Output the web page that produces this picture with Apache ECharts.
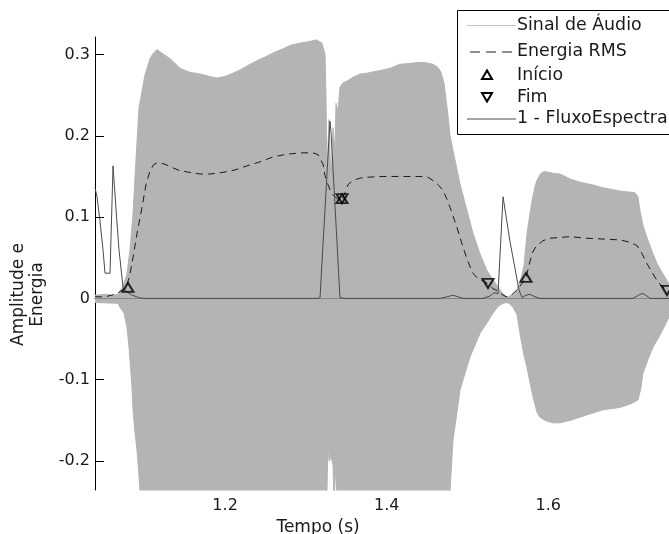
<!DOCTYPE html>
<html>
<head>
<meta charset="utf-8">
<script src="https://cdn.jsdelivr.net/npm/echarts@6/dist/echarts.min.js"></script>
<style>
  html, body { margin: 0; padding: 0; background: #fff; }
  #chart { width: 669px; height: 534px; }
</style>
</head>
<body>
<div id="chart"></div>
<script>
// Audio signal envelope (upper edge), time in seconds
const upperTime = [1.039, 1.0514, 1.0613, 1.0675, 1.0737, 1.0786, 1.0823, 1.0860, 1.0897, 1.0935,
  1.0972, 1.1009, 1.1071, 1.1108, 1.1157, 1.1256, 1.1318, 1.1442, 1.1566, 1.1690,
  1.1813, 1.1900, 1.1999, 1.2098, 1.2185, 1.2308, 1.2432, 1.2519, 1.2618, 1.2717,
  1.2803, 1.2927, 1.3051, 1.3125, 1.3199, 1.3237, 1.3249, 1.3261, 1.3286, 1.3311,
  1.3336, 1.3360, 1.3373, 1.3397, 1.3422, 1.3459, 1.3521, 1.3583, 1.3670, 1.3756,
  1.3855, 1.3954, 1.4041, 1.4165, 1.4289, 1.4375, 1.4474, 1.4573, 1.4635, 1.4672,
  1.4709, 1.4734, 1.4759, 1.4784, 1.4821, 1.4907, 1.4994, 1.5068, 1.5155, 1.5242,
  1.5365, 1.5427, 1.5489, 1.5526, 1.5588, 1.5650, 1.5699, 1.5737, 1.5774, 1.5798,
  1.5836, 1.5860, 1.5897, 1.5922, 1.5959, 1.6058, 1.6145, 1.6269, 1.6393, 1.6479,
  1.6578, 1.6677, 1.6789, 1.6887, 1.6986, 1.7073, 1.7110, 1.7135, 1.7172, 1.7221,
  1.7284, 1.7346, 1.7420, 1.7494];
const upperValue = [0.004, 0.005, 0.004, 0.005, 0.015, 0.03, 0.06, 0.104, 0.17, 0.235,
  0.255, 0.275, 0.295, 0.301, 0.306, 0.299, 0.295, 0.283, 0.278, 0.276,
  0.273, 0.271, 0.273, 0.277, 0.281, 0.288, 0.294, 0.298, 0.303, 0.307,
  0.311, 0.314, 0.316, 0.318, 0.314, 0.300, 0.250, 0.150, 0.220, 0.140,
  0.210, 0.180, 0.240, 0.230, 0.260, 0.265, 0.268, 0.272, 0.276, 0.277,
  0.279, 0.281, 0.283, 0.288, 0.289, 0.290, 0.290, 0.288, 0.284, 0.278,
  0.265, 0.245, 0.225, 0.200, 0.182, 0.141, 0.108, 0.080, 0.055, 0.034,
  0.016, 0.007, 0.002, 0.003, 0.006, 0.020, 0.040, 0.080, 0.105, 0.120,
  0.138, 0.145, 0.152, 0.155, 0.156, 0.154, 0.153, 0.147, 0.143, 0.141,
  0.139, 0.136, 0.134, 0.132, 0.131, 0.130, 0.125, 0.108, 0.090, 0.075,
  0.058, 0.043, 0.030, 0.018];

// Audio signal envelope (lower edge)
const lowerTime = [1.039, 1.0675, 1.0699, 1.0749, 1.0786, 1.0811, 1.0823, 1.0848, 1.0860, 1.0885,
  1.0910, 1.0947, 1.0984, 1.1071, 1.3249, 1.3274, 1.3286, 1.3311, 1.3336, 1.3348,
  1.3373, 1.3385, 1.3410, 1.3434, 1.4747, 1.4784, 1.4821, 1.4870, 1.4907, 1.4969,
  1.5031, 1.5155, 1.5242, 1.5316, 1.5378, 1.5440, 1.5489, 1.5526, 1.5563, 1.5613,
  1.5650, 1.5699, 1.5737, 1.5774, 1.5811, 1.5860, 1.5897, 1.5959, 1.6058, 1.6145,
  1.6269, 1.6393, 1.6516, 1.6677, 1.6887, 1.7011, 1.7110, 1.7147, 1.7172, 1.7234,
  1.7296, 1.7383, 1.7494];
const lowerValue = [-0.005, -0.006, -0.011, -0.018, -0.036, -0.060, -0.076, -0.110, -0.137, -0.165,
  -0.187, -0.236, -0.270, -0.300, -0.300, -0.171, -0.200, -0.195, -0.205, -0.250,
  -0.203, -0.250, -0.225, -0.300, -0.300, -0.236, -0.174, -0.140, -0.113, -0.092,
  -0.072, -0.043, -0.030, -0.018, -0.010, -0.006, -0.005, -0.007, -0.011, -0.020,
  -0.043, -0.070, -0.085, -0.104, -0.121, -0.140, -0.146, -0.150, -0.153, -0.153,
  -0.150, -0.146, -0.142, -0.137, -0.134, -0.130, -0.125, -0.110, -0.092, -0.075,
  -0.060, -0.045, -0.023];

// RMS energy curve
const rmsTime = [1.039, 1.0514, 1.0600, 1.0675, 1.0724, 1.0786, 1.0823, 1.0860, 1.0910, 1.0972,
  1.1021, 1.1071, 1.1120, 1.1170, 1.1256, 1.1343, 1.1442, 1.1566, 1.1690, 1.1813,
  1.1974, 1.2123, 1.2271, 1.2432, 1.2593, 1.2742, 1.2927, 1.3088, 1.3150, 1.3175,
  1.3212, 1.3237, 1.3274, 1.3311, 1.3360, 1.3397, 1.3447, 1.3484, 1.3521, 1.3583,
  1.3670, 1.3756, 1.3954, 1.4165, 1.4412, 1.4511, 1.4573, 1.4635, 1.4697, 1.4746,
  1.4784, 1.4870, 1.4945, 1.5006, 1.5068, 1.5130, 1.5180, 1.5254, 1.5316, 1.5365,
  1.5427, 1.5477, 1.5526, 1.5588, 1.5650, 1.5724, 1.5761, 1.5798, 1.5836, 1.5860,
  1.5934, 1.6021, 1.6145, 1.6269, 1.6479, 1.6677, 1.6887, 1.7011, 1.7098, 1.7160,
  1.7221, 1.7284, 1.7346, 1.7407, 1.7469, 1.7494];
const rmsValue = [0.002, 0.002, 0.004, 0.007, 0.010, 0.016, 0.030, 0.050, 0.080, 0.112,
  0.140, 0.157, 0.165, 0.167, 0.165, 0.161, 0.157, 0.155, 0.153, 0.153,
  0.155, 0.158, 0.163, 0.168, 0.174, 0.177, 0.179, 0.179, 0.177, 0.172,
  0.165, 0.151, 0.140, 0.130, 0.125, 0.122, 0.123, 0.130, 0.140, 0.145,
  0.148, 0.149, 0.150, 0.150, 0.150, 0.149, 0.145, 0.140, 0.133, 0.122,
  0.112, 0.087, 0.063, 0.045, 0.031, 0.024, 0.022, 0.018, 0.012, 0.0098,
  0.005, 0.002, 0.003, 0.008, 0.015, 0.026, 0.040, 0.055, 0.062, 0.065,
  0.071, 0.074, 0.075, 0.076, 0.074, 0.073, 0.072, 0.069, 0.065, 0.055,
  0.043, 0.032, 0.022, 0.015, 0.010, 0.008];

// Spectral flux curve
const fluxTime = [1.039, 1.0415, 1.0452, 1.0489, 1.0514, 1.0576, 1.0613, 1.0650, 1.0687, 1.0737,
  1.0786, 1.0848, 1.0947, 1.1009, 1.3150, 1.3175, 1.3298, 1.3311, 1.3422, 1.3484,
  1.4660, 1.4747, 1.4821, 1.4883, 1.4945, 1.5192, 1.5279, 1.5328, 1.5378, 1.5440,
  1.5526, 1.5638, 1.5675, 1.5724, 1.5774, 1.5836, 1.5897, 1.7048, 1.7135, 1.7172,
  1.7221, 1.7259, 1.7494];
const fluxValue = [0.136, 0.125, 0.095, 0.060, 0.031, 0.031, 0.163, 0.110, 0.060, 0.0135,
  0.008, 0.004, 0.0005, 0, 0, 0.001, 0.218, 0.205, 0.001, 0,
  0, 0.002, 0.004, 0.002, 0, 0, 0.003, 0.007, 0.006, 0.125,
  0.070, 0.010, 0.001, 0.004, 0.005, 0.002, 0, 0, 0.005, 0.006,
  0.003, 0, 0];

// Detected onsets and offsets
const onsetTime = [1.0798, 1.3447, 1.5724];
const onsetValue = [0.0135, 0.1227, 0.0258];
const offsetTime = [1.3447, 1.5254, 1.7469];
const offsetValue = [0.1227, 0.0184, 0.0098];

// Axis ticks and legend entries
const xTicks = [1.2, 1.4, 1.6];
const yTicks = [-0.2, -0.1, 0, 0.1, 0.2, 0.3];
const legendNames = ['Sinal de Áudio', 'Energia RMS', 'Início', 'Fim', '1 - FluxoEspectral'];

const zip = (xs, ys) => xs.map((x, i) => [x, ys[i]]);

const FONT = 'DejaVu Sans';
const TEXT = '#1a1a1a';
const GREY = '#b4b4b4';
const RMS_COLOR = '#1a1a1a';
const FLUX_COLOR = '#4a4a4a';
const DOWN_TRIANGLE = 'path://M0,0L10,0L5,9Z';

// Legend box drawn as graphic elements: one row per entry
function buildLegend() {
  const boxX = 457.5, boxY = 10.5, rowY = [25, 51.5, 75, 97, 118.5];
  const sx0 = 467, sx1 = 516, cx = 487, textX = 517;
  const els = [{
    type: 'rect', shape: { x: boxX, y: boxY, width: 230, height: 124 },
    style: { fill: '#fff', stroke: '#000', lineWidth: 1 }, z: 100
  }];
  const samples = [
    { type: 'line', shape: { x1: sx0, y1: rowY[0] + 0.5, x2: sx1, y2: rowY[0] + 0.5 }, style: { stroke: '#c4c4c4', lineWidth: 1 } },
    { type: 'line', shape: { x1: sx0 + 3, y1: rowY[1] + 0.5, x2: sx1, y2: rowY[1] + 0.5 }, style: { stroke: RMS_COLOR, lineWidth: 1, lineDash: [10, 6] } },
    { type: 'polygon', shape: { points: [[cx - 5, rowY[2] + 4], [cx + 5, rowY[2] + 4], [cx, rowY[2] - 4.5]] }, style: { fill: 'none', stroke: '#000', lineWidth: 2 } },
    { type: 'polygon', shape: { points: [[cx - 5, rowY[3] - 4], [cx + 5, rowY[3] - 4], [cx, rowY[3] + 4.5]] }, style: { fill: 'none', stroke: '#000', lineWidth: 2 } },
    { type: 'line', shape: { x1: sx0, y1: rowY[4] + 0.5, x2: sx1, y2: rowY[4] + 0.5 }, style: { stroke: FLUX_COLOR, lineWidth: 1 } }
  ];
  samples.forEach(s => { s.z = 101; els.push(s); });
  legendNames.forEach((name, i) => {
    els.push({
      type: 'text', x: textX, y: rowY[i], z: 101,
      style: { text: name, fontFamily: FONT, fontSize: 17.4, fill: TEXT, verticalAlign: 'middle', align: 'left' }
    });
  });
  return els;
}

const chart = echarts.init(document.getElementById('chart'), null, { renderer: 'canvas' });

chart.setOption({
  animation: false,
  backgroundColor: '#ffffff',
  grid: { left: 95, right: 0, top: 37, bottom: 44, containLabel: false, outerBoundsMode: 'none' },
  xAxis: {
    type: 'value',
    min: 1.039,
    max: 1.7494,
    name: 'Tempo (s)',
    nameLocation: 'middle',
    nameGap: 29.5,
    nameTextStyle: { fontFamily: FONT, fontSize: 17, color: TEXT, padding: [0, 128, 0, 0] },
    axisLine: { show: true, lineStyle: { color: '#000', width: 1 } },
    axisTick: { show: true, inside: true, length: 9, customValues: xTicks, lineStyle: { color: '#000' } },
    axisLabel: {
      customValues: xTicks,
      margin: 8,
      fontFamily: FONT, fontSize: 16, color: TEXT,
      formatter: v => v.toFixed(1)
    },
    splitLine: { show: false }
  },
  yAxis: {
    type: 'value',
    min: -0.2356,
    max: 0.3215,
    name: 'Amplitude e\nEnergia',
    nameLocation: 'middle',
    nameGap: 48,
    nameTextStyle: { fontFamily: FONT, fontSize: 17, color: TEXT, lineHeight: 19, padding: [0, 62, 0, 0] },
    axisLine: { show: true, lineStyle: { color: '#000', width: 1 } },
    axisTick: { show: true, inside: true, length: 9, customValues: yTicks, lineStyle: { color: '#000' } },
    axisLabel: {
      customValues: yTicks,
      margin: 5,
      fontFamily: FONT, fontSize: 16, color: TEXT,
      formatter: v => (v === 0 ? '0' : String(v))
    },
    splitLine: { show: false }
  },
  graphic: buildLegend(),
  series: [
    {
      name: legendNames[0],
      type: 'line',
      data: zip(upperTime, upperValue),
      symbol: 'none',
      lineStyle: { color: GREY, width: 1 },
      areaStyle: { color: GREY, opacity: 1 },
      z: 1
    },
    {
      name: legendNames[0],
      type: 'line',
      data: zip(lowerTime, lowerValue),
      symbol: 'none',
      lineStyle: { color: GREY, width: 1 },
      areaStyle: { color: GREY, opacity: 1 },
      z: 1
    },
    {
      name: legendNames[1],
      type: 'line',
      data: zip(rmsTime, rmsValue),
      symbol: 'none',
      lineStyle: { color: RMS_COLOR, width: 1, type: [7, 5] },
      z: 3
    },
    {
      name: legendNames[2],
      type: 'scatter',
      data: zip(onsetTime, onsetValue),
      symbol: 'triangle',
      symbolSize: [11, 9],
      itemStyle: { color: 'rgba(0,0,0,0)', borderColor: '#000', borderWidth: 2 },
      z: 5
    },
    {
      name: legendNames[3],
      type: 'scatter',
      data: zip(offsetTime, offsetValue),
      symbol: DOWN_TRIANGLE,
      symbolSize: [11, 9],
      itemStyle: { color: 'rgba(0,0,0,0)', borderColor: '#000', borderWidth: 2 },
      z: 5
    },
    {
      name: legendNames[4],
      type: 'line',
      data: zip(fluxTime, fluxValue),
      symbol: 'none',
      lineStyle: { color: FLUX_COLOR, width: 1 },
      z: 4
    }
  ]
});
</script>
</body>
</html>
